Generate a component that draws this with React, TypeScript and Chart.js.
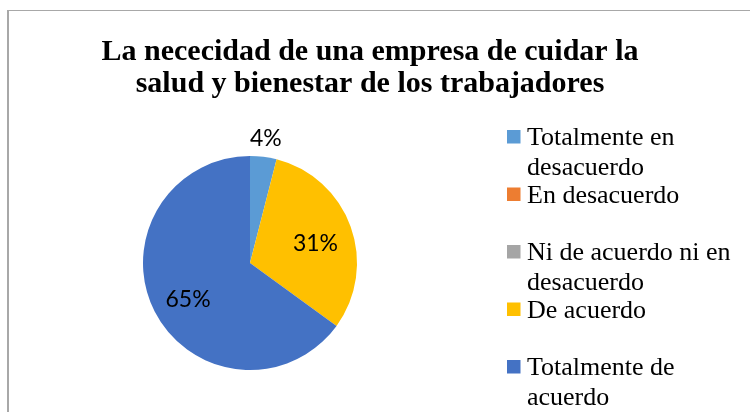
import React, { useEffect, useRef } from "react";
import { Chart, registerables } from "chart.js";

Chart.register(...registerables);

const titleLines = [
  "La nececidad de una empresa de cuidar la",
  "salud y bienestar de los trabajadores",
];
const categories = [
  "Totalmente en desacuerdo",
  "En desacuerdo",
  "Ni de acuerdo ni en desacuerdo",
  "De acuerdo",
  "Totalmente de acuerdo",
];
const legendLines = [
  ["Totalmente en", "desacuerdo"],
  ["En desacuerdo"],
  ["Ni de acuerdo ni en", "desacuerdo"],
  ["De acuerdo"],
  ["Totalmente de", "acuerdo"],
];
const values = [4, 0, 0, 31, 65];
const colors = ["#5B9BD5", "#ED7D31", "#A5A5A5", "#FFC000", "#4472C4"];

const decorPlugin = {
  id: "decor",
  afterDraw(chart: any) {
    const ctx = chart.ctx as CanvasRenderingContext2D;
    ctx.save();
    // frame
    ctx.fillStyle = "#a8a8a8";
    ctx.fillRect(7, 10, 2, 402);
    ctx.fillRect(7, 10, 743, 1);

    // title
    ctx.fillStyle = "#000";
    ctx.font = "bold 30px 'Liberation Serif', 'Times New Roman', serif";
    ctx.textAlign = "center";
    ctx.textBaseline = "alphabetic";
    titleLines.forEach((t, i) => ctx.fillText(t, 370, 60 + i * 32));

    // legend
    ctx.textAlign = "left";
    ctx.font = "26px 'Liberation Serif', 'Times New Roman', serif";
    legendLines.forEach((lines, i) => {
      const base = 145 + i * 57.5;
      ctx.fillStyle = colors[i];
      ctx.fillRect(507, base - 15, 13.5, 13.5);
      ctx.fillStyle = "#000";
      lines.forEach((l, j) => ctx.fillText(l, 527, base + j * 30));
    });

    // data labels
    const meta = chart.getDatasetMeta(0);
    const total = values.reduce((a, b) => a + b, 0);
    ctx.font = "23px Lato, 'Open Sans', sans-serif";
    ctx.textAlign = "center";
    ctx.textBaseline = "alphabetic";
    ctx.fillStyle = "#000";
    meta.data.forEach((arc: any, i: number) => {
      const v = values[i];
      if (!v) return;
      const pct = Math.round((v / total) * 100);
      const mid = (arc.startAngle + arc.endAngle) / 2;
      const outside = pct < 10;
      const f = outside ? 1.18 : 0.65;
      const x = arc.x + Math.cos(mid) * arc.outerRadius * f;
      const y = arc.y + Math.sin(mid) * arc.outerRadius * f + (outside ? 0 : 4);
      ctx.fillText(pct + "%", x, y + 8);
    });
    ctx.restore();
  },
};

export default function App() {
  const ref = useRef<HTMLCanvasElement>(null);
  useEffect(() => {
    document.body.style.margin = "0";
    const chart = new Chart(ref.current!, {
      type: "pie",
      data: {
        labels: categories,
        datasets: [
          {
            data: values,
            backgroundColor: colors,
            borderWidth: 0,
          },
        ],
      },
      options: {
        responsive: false,
        animation: false,
        layout: { padding: { left: 143, right: 393, top: 156, bottom: 42 } },
        plugins: {
          legend: { display: false },
          title: { display: false },
          tooltip: { enabled: false },
        },
      },
      plugins: [decorPlugin],
    });
    return () => chart.destroy();
  }, []);
  return (
    <div style={{ width: 750, height: 412, background: "#fff" }}>
      <canvas ref={ref} width={750} height={412} style={{ display: "block" }} />
    </div>
  );
}
